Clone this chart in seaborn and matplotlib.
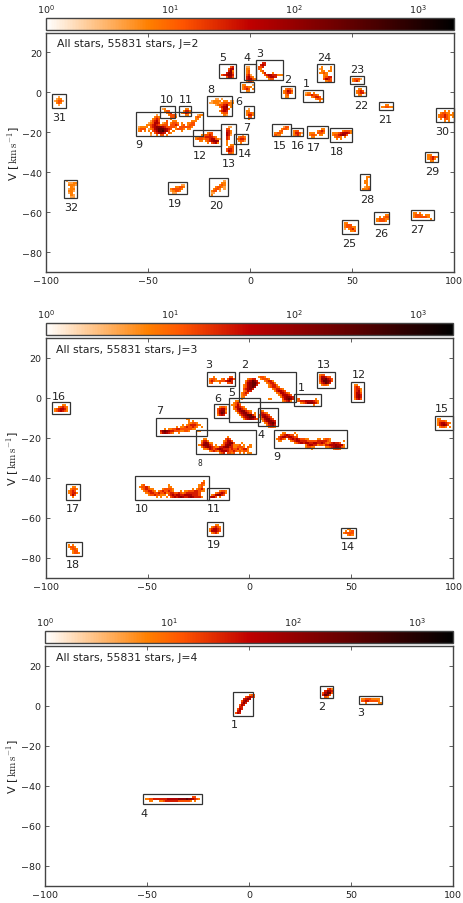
# Moving groups in the U-V plane, three wavelet scales J=2,3,4

import numpy as np
import matplotlib
matplotlib.use("Agg")
import matplotlib.pyplot as plt
import seaborn as sns
from matplotlib.colors import LogNorm
from matplotlib.patches import Rectangle

# counts for the digits used in the cell rows below ('.' is an empty cell)
count_levels = [0, 2, 4, 7, 14, 30, 60, 120, 250, 500]

# (U of first cell, V of top edge, rows going down), one cell is 1 km/s
cells_j2 = [
    (-96, -2, ["..2..", ".233.", "23442", ".343.", "..2.."]),
    (-90, -44, ["2....", ".2233", ".3332", "..32.", ".233.", ".332.", ".23..", "..32.", "..22."]),
    (-39, -46, [".....22", "..33443", "344443.", "23443..", ".22...."]),
    (-19, -44, ["......2.", ".....33.", "....343.", "..34432.", ".3443.2.", "344.2...", "22......", "3......."]),
    (-55, -11, [".........2...................233",
                "........343.................343.",
                ".......3454.....3...........33..",
                "......24564...4..33.......333...",
                ".....234665.234.3443.3..3344....",
                "....33456543444.4454.34.3444....",
                "23333.4567776544443.4444443.....",
                "3444.234678887654.34443.33......",
                "34.3.3.456889764.3...3..........",
                "......3.456765.43...............",
                "......2..3.44.3................."]),
    (-43, -8, ["23.....", ".344...", "..345..", "...3442", "....443"]),
    (-34, -8, ["..33.", ".3553", "34653", "..33."]),
    (-27, -20, ["......344....", "...334454....", "33444555543..", "3444344566432", "..33.3456776.", "......3.4563."]),
    (-20, -3, ["...22.2.....", ".23333.33.22", "223332344433", "...23445633.", ".....3567.3.",
               "......4663..", ".....3565...", "......344...", ".......32..."]),
    (-14, 13, ["....45.", "...466.", "...573.", "..5774.", "456775.", "..4664."]),
    (-13, -17, ["..22..", ".44...", ".553..", ".653..", ".652..", ".54...", ".54...", ".3....",
                ".3....", ".3.33.", "..344.", ".4554.", ".4654.", "..443."]),
    (-7, -21, ["...2..", ".3443.", "34554.", ".3442.", "..3..."]),
    (-4, 4, ["33...2", "34433.", "3454.3", "..33.."]),
    (-2, 13, ["22...", "33...", "34...", "34...", "452..", "5643.", "56643", "3553."]),
    (-2, -8, [".2...", "33...", "3443.", "3553.", ".44..", ".3..."]),
    (4, 15, ["..55.", ".565.", "445..", "43...", ".34..", "..35...3..", "...456655333", "....35665..", ".....344.."]),
    (16, 2, [".3442.", "34654.", "34553.", ".34...", ".33..."]),
    (27, 0, ["233.3...", "3445443.", "...34554", ".....3443", ".......3."]),
    (12, -17, ["....244", "...3443", "..34...", "3443...", "433...."]),
    (21, -19, ["344..", "35542", "3453."]),
    (29, -18, ["......33.", "....3454.", "333.4443", "3443.33.", ".33....."]),
    (40, -19, [".....34443", "3334566653", "34456764..", ".3443.3...", "..3.3....."]),
    (34, 13, [".3...3.", "23...3.", ".33.33.", "3343...", "..33...", "..3455.", "..4654.", "...344."]),
    (50, 7, ["34442", "3453."]),
    (52, 2, [".33..", "3454.", "34552", ".33.."]),
    (64, -6, ["..33..", "334433"]),
    (92, -9, ["...3.3..", ".34433.3", "34454333", "344543.3", ".3.443..", "...3.3.."]),
    (87, -31, ["33...", "34543", "3453.", ".33.."]),
    (55, -42, ["..33", "..3.", ".33.", ".33.", "..3.", ".233", "3334"]),
    (46, -65, ["33....", "3444..", "344433", "2.3453", "...334"]),
    (62, -61, ["....33", ".3.344", "344433", "34443."]),
    (80, -60, ["33.3.....", "34443.33.", "34444443.", "........3"]),
]
cells_j3 = [
    (-96, -3, ["....33.", "..34543", "3456653", "3456543"]),
    (-16, -4, [".3443", "45664", "46773", "46874", "3565."]),
    (-20, 11, ["..3.......44.", "3443..34.4664", "454334445675", "34...3...445"]),
    (-4, 11, ["........3443...............",
              "...3455..34443.............",
              "..356875...34553...........",
              "..4678864...34553..........",
              ".3467885.....34553.........",
              ".346786......345543........",
              ".45675.........345543......",
              ".3465...........356654.....",
              "3454.............3466543...",
              "344...............3466654..",
              "33.................3567765.",
              "3............33.....467875.",
              "....................34563.."]),
    (23, 0, ["34.......3.", "34556666543", "..345777653", "........3.."]),
    (-9, -1, ["..33..........", ".3453.........", "33464.........", ".356543.......", ".3467543......",
              "..35677543....", "...3567754.3..", "....35678853.4", ".....3567886.3", "......3567654."]),
    (5, -6, ["43.......", "5543.....", "56654....", "467654...", "3467754..", ".3567765.", "..346786.", "...35675.",
             "....3443."]),
    (-45, -10, ["..............33.......",
                "...............3.3.....",
                "...............33443...",
                "............3.3455543..",
                ".........3.334544543.3.",
                "...3.33445544444433....",
                ".578765544433443...33..",
                ".4676543..3............"]),
    (-25, -19, ["..............3............",
                "..33.........454...........",
                ".3553.......34664..........",
                ".467633.....456774...3.....",
                "3577754.3..3467753334.3..3.",
                ".3567654335567755334443.43.",
                "..33465456765554544534553.",
                ".....34543566654454343443.",
                "..........345.4434..3.3.33."]),
    (13, -17, ["...33....3........................",
               "..3456544.3.......................",
               ".4566566544.......................",
               "34543.4565654433....33.3443.......",
               ".33....34566555444445555543......3",
               ".........34565665566556543456554..",
               "..............35665534435566676663",
               "..............34433.....3345677643",
               ".................3..........3443.."]),
    (-55, -41, ["................................3.",
                "...............................44.",
                "..34...........3..............343.",
                ".34453.........33.............34..",
                "..345433....344443.........3.3453.",
                "...345543.34544543...3.3344455433.",
                "....345544544534554454345555554...",
                ".....344544333.4565665566665554...",
                ".........3.3..3.4565676556765553.."]),
    (-20, -46, [".....3443.", "...345653.", ".3467754..", "5664.3...."]),
    (51, 7, ["33...", "454..", "4553.", "4563.", "4664.", "4675.", "4675.", "3564."]),
    (34, 12, ["344....", "466544.", "4778654", "4688764", "356875.", ".3443.."]),
    (46, -65, ["..33..", ".3.34.", "34444.", "..343."]),
    (92, -10, ["33.....", "34443..", "3566543", "356764.", ".3443.3"]),
    (-89, -44, ["..33.", ".3443", "3454.", "34553", ".464.", "..3.."]),
    (-89, -73, ["3.3...", "3443..", ".3443.", "..344.", "..3443"]),
    (-20, -63, ["...33.", ".34543", "356654", "366654", ".3453."]),
]
cells_j4 = [
    (-7, 6, [".......344", ".....45654", "....5676..", "...4675...", "...575....", "..465.....",
             "..55......", ".465......", ".56.......", "465......."]),
    (36, 9, ["..453", ".5765", "46884", "5874.", ".43.."]),
    (55, 4, ["334443333.", "445544443.", "..3.....33"]),
    (-51, -45, [".......................44..",
                "334455555556666677778776543",
                "..33...3345555554444443.3.."]),
]

# cluster boxes: U min, U max, V min, V max, in order of cluster number
boxes_j2 = [(26, 36, -5, 1), (15, 22, -3, 3), (3, 16, 6, 16), (-3, 3, 6, 14), (-15, -7, 7, 14), (-5, 2, 0, 5),
            (-3, 2, -13, -7), (-21, -9, -12, -2), (-56, -23, -22, -10), (-44, -37, -13, -7), (-35, -29, -12, -7),
            (-28, -14, -27, -19), (-14, -7, -31, -16), (-8, -1, -26, -21), (11, 20, -22, -16), (20, 26, -22, -18),
            (28, 38, -23, -17), (39, 50, -25, -18), (-40, -31, -51, -45), (-20, -11, -52, -43), (63, 70, -9, -5),
            (51, 57, -2, 3), (49, 56, 4, 8), (33, 41, 5, 14), (45, 53, -71, -64), (61, 68, -66, -60),
            (79, 90, -64, -59), (54, 59, -49, -41), (86, 92, -35, -30), (91, 100, -15, -8), (-97, -90, -8, -1),
            (-91, -85, -53, -44)]
boxes_j3 = [(22, 35, -4, 2), (-5, 23, -2, 13), (-21, -7, 6, 13), (4, 14, -14, -5), (-10, 5, -12, 0),
            (-17.5, -10, -10, -3), (-46, -21, -19, -10), (-26, 3, -28, -16), (12, 48, -25, -16), (-56, -20, -51, -39),
            (-21, -10, -51, -45), (50, 56, -2, 8), (33, 42, 5, 13), (45, 52, -70, -65), (91, 100, -16, -9),
            (-97, -88, -8, -2), (-90, -83, -51, -43), (-90, -82, -79, -72), (-21, -13, -69, -62)]
boxes_j4 = [(-8, 2, -5, 7), (35, 41, 4, 10), (54, 65, 1, 5), (-52, -23, -49, -44)]

# cluster number labels, same order as the boxes
label_u_j2 = [27.7, 18.7, 4.6, -1.4, -13.3, -5.3, -1.4, -19.3, -54.3, -40.6, -31.6, -24.6, -10.5, -2.7, 14.4, 23.4,
              31.3, 42.4, -36.7, -16.6, 66.4, 54.3, 52.3, 36.3, 48.4, 64.4, 82.2, 57.4, 89.4, 94.4, -93.6, -87.8]
label_v_j2 = [4.7, 6.7, 19.7, 17.5, 17.5, -4.3, -17.3, 1.7, -26, -3.3, -3.3, -31.2, -35.3, -30.3, -26.3, -26.3,
              -27.3, -29.3, -55.3, -56.3, -13.3, -6.3, 11.7, 17.5, -75.3, -70.3, -68.3, -53.3, -39.3, -19.5, -12.3, -57.3]
label_u_j3 = [25.5, -2.6, -19.8, 5.4, -8.5, -15.7, -44.1, -24.5, 13.4, -52.6, -17.5, 53.4, 36.3, 48.4, 94.3, -93.6,
              -86.8, -86.8, -17.5]
label_v_j3 = [5.7, 16.8, 16.8, -18.2, 2.8, 0, -6.2, -32.2, -29.2, -55, -55, 12, 16.8, -74.2, -5.2, 0.8, -55, -83.2, -73.2]
label_u_j4 = [-7.3, 35.6, 54.6, -51.6]
label_v_j4 = [-9.2, -0.2, -3.2, -53.3]

scales = [2, 3, 4]
total_stars = 55831
u_ticks = [-100, -50, 0, 50, 100]
v_ticks = [-80, -60, -40, -20, 0, 20]
cbar_ticks = [1, 10, 100, 1000]

sns.set_style("white")
plt.rcParams["font.family"] = ["DejaVu Sans"]
plt.rcParams["mathtext.fontset"] = "dejavusans"
plt.rcParams["mathtext.default"] = "regular"

W, H = 463, 904
EDGE = "#444444"


def build_grid(blobs):
    # 200 x 120 grid of 1 km/s cells, row 0 is V = -90
    grid = np.zeros((120, 200))
    for u0, v_top, rows in blobs:
        for r, row in enumerate(rows):
            for c, ch in enumerate(row):
                if ch != ".":
                    i, j = v_top - r - 1 + 90, u0 + c + 100
                    if 0 <= i < 120 and 0 <= j < 200:
                        grid[i, j] = max(grid[i, j], count_levels[int(ch)])
    return grid


def draw_panel(fig, px, blobs, boxes, lab_u, lab_v, j):
    left, right, top, bottom, cb_top, cb_bottom = px
    ax = fig.add_axes([left / W, 1 - bottom / H, (right - left) / W, (bottom - top) / H])
    cax = fig.add_axes([left / W, 1 - cb_bottom / H, (right - left) / W, (cb_bottom - cb_top) / H])

    grid = build_grid(blobs)
    sns.heatmap(grid, mask=grid == 0, cmap="gist_heat_r", norm=LogNorm(vmin=1, vmax=1950),
                cbar=False, ax=ax, xticklabels=False, yticklabels=False)
    ax.set_xlim(0, 200)
    ax.set_ylim(0, 120)
    ax.set_xticks([u + 100 for u in u_ticks])
    ax.set_xticklabels([str(u).replace("-", "\u2212") for u in u_ticks])
    ax.set_yticks([v + 90 for v in v_ticks])
    ax.set_yticklabels([str(v).replace("-", "\u2212") for v in v_ticks])
    ax.tick_params(direction="in", top=True, right=True, bottom=True, left=True, length=3, width=0.6,
                   labelsize=6.8, pad=3, color=EDGE, labelcolor="#222222")
    ax.set_ylabel(r"V $[\,\mathrm{km\,s^{-1}}]$", fontsize=8, labelpad=0, math_fontfamily="cm", color="#222222")
    for s in ax.spines.values():
        s.set_visible(True)
        s.set_linewidth(1.0)
        s.set_color(EDGE)

    for n, (u0, u1, v0, v1) in enumerate(boxes):
        ax.add_patch(Rectangle((u0 + 100, v0 + 90), u1 - u0, v1 - v0, fill=False, ec="#333333", lw=0.9,
                               clip_on=False))
        size = 5.5 if (j == 3 and n == 7) else 8
        ax.text(lab_u[n] + 100, lab_v[n] + 90, str(n + 1), ha="center", va="center", fontsize=size, color="#222222")

    ax.text(0.026, 0.956, "All stars, %d stars, J=%d" % (total_stars, j), transform=ax.transAxes,
            ha="left", va="center", fontsize=7.8, color="#222222")

    cb = fig.colorbar(ax.collections[0], cax=cax, orientation="horizontal")
    cb.set_ticks(cbar_ticks)
    cb.minorticks_off()
    cax.xaxis.set_ticks_position("top")
    cax.tick_params(direction="in", length=3, width=0.6, labelsize=6.8, pad=2, color=EDGE, labelcolor="#222222")
    cb.outline.set_linewidth(1.0)
    cb.outline.set_edgecolor(EDGE)


fig = plt.figure(figsize=(W / 100, H / 100), dpi=100)

panel_px = [
    (46, 454, 33.5, 273, 18.5, 30.5),
    (45.5, 453.5, 339, 579, 324, 336),
    (45, 453, 647, 887, 632, 644),
]
all_cells = [cells_j2, cells_j3, cells_j4]
all_boxes = [boxes_j2, boxes_j3, boxes_j4]
all_u = [label_u_j2, label_u_j3, label_u_j4]
all_v = [label_v_j2, label_v_j3, label_v_j4]

for k in range(3):
    draw_panel(fig, panel_px[k], all_cells[k], all_boxes[k], all_u[k], all_v[k], scales[k])

fig.savefig("out.png", dpi=100)
